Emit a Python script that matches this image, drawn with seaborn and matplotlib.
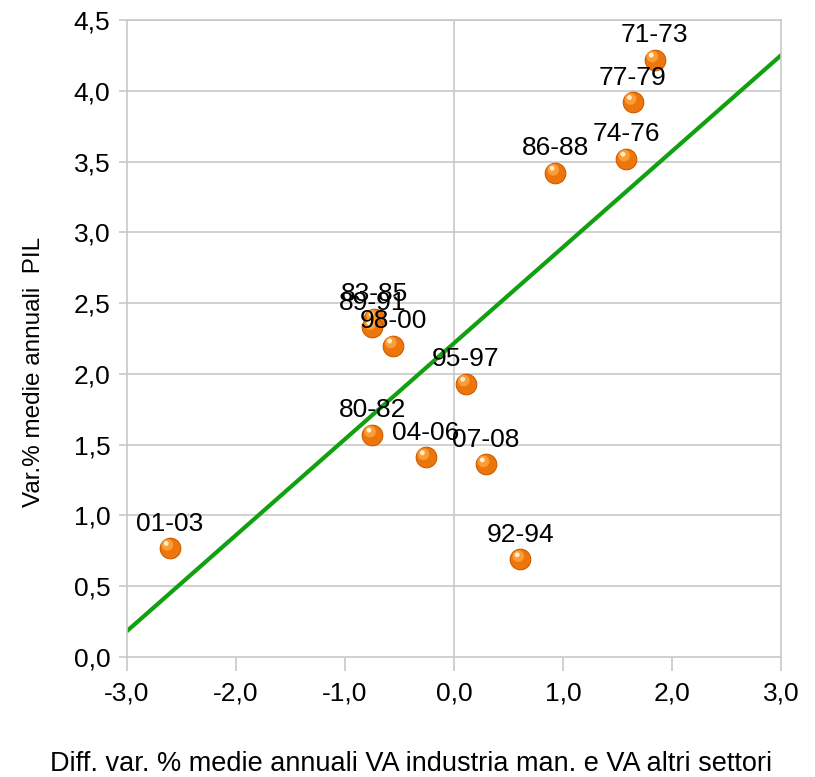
import numpy as np
import pandas as pd
import seaborn as sns
import matplotlib.pyplot as plt
from matplotlib.ticker import FuncFormatter

# periods and values
periods = ['71-73', '77-79', '74-76', '86-88', '83-85', '89-91', '98-00',
           '95-97', '80-82', '04-06', '07-08', '92-94', '01-03']
diff_va = [1.84, 1.64, 1.58, 0.93, -0.73, -0.75, -0.56,
           0.11, -0.75, -0.26, 0.29, 0.61, -2.61]
pil_var = [4.22, 3.92, 3.52, 3.42, 2.39, 2.33, 2.20,
           1.93, 1.57, 1.41, 1.36, 0.69, 0.77]

x_ticks = [-3, -2, -1, 0, 1, 2, 3]
y_ticks = [0, 0.5, 1, 1.5, 2, 2.5, 3, 3.5, 4, 4.5]

df = pd.DataFrame({'period': periods, 'x': diff_va, 'y': pil_var})

sns.set_style('white')
plt.rcParams['font.family'] = ['Liberation Sans', 'DejaVu Sans']

fig = plt.figure(figsize=(8.15, 7.77), dpi=100)
ax = fig.add_axes([127 / 815, 120 / 777, 654 / 815, 637 / 777])
ax.set_xlim(-3, 3)
ax.set_ylim(0, 4.5)

grid_c = '#c8c8c8'
for v in y_ticks[1:]:
    ax.axhline(v, color=grid_c, lw=1.2, zorder=0)
ax.axvline(0, color=grid_c, lw=1.2, zorder=0)

# linear trend
sns.regplot(data=df, x='x', y='y', ci=None, truncate=False, scatter=False,
            line_kws={'color': '#10a010', 'lw': 3, 'zorder': 2}, ax=ax)
ax.set_xlim(-3, 3)
ax.set_ylim(0, 4.5)

# orange balls
sns.scatterplot(data=df, x='x', y='y', s=220, color='#ec760c', edgecolor='#d05a00',
                linewidth=0.8, zorder=3, ax=ax, legend=False)
ax.scatter(np.array(diff_va) - 0.02, np.array(pil_var) + 0.022, s=70,
           color='#ffa840', edgecolor='none', zorder=4, alpha=0.8)
ax.scatter(np.array(diff_va) - 0.03, np.array(pil_var) + 0.032, s=12,
           color='#fff0d0', edgecolor='none', zorder=5)

for p, xv, yv in zip(periods, diff_va, pil_var):
    ax.annotate(p, (xv, yv), xytext=(0, 9), textcoords='offset points',
                ha='center', va='bottom', fontsize=19, color='black', zorder=6)

ax.set_xticks(x_ticks)
ax.set_yticks(y_ticks)
fmt = FuncFormatter(lambda v, _: f'{v:.1f}'.replace('.', ','))
ax.xaxis.set_major_formatter(fmt)
ax.yaxis.set_major_formatter(fmt)
ax.tick_params(axis='x', direction='out', length=10, width=1.2, color=grid_c,
               labelsize=19, labelcolor='black', pad=8)
ax.tick_params(axis='y', direction='out', length=6, width=1.2, color=grid_c,
               labelsize=19, labelcolor='black', pad=6)
ax.tick_params(bottom=True, left=True)

for s in ax.spines.values():
    s.set_color(grid_c)
    s.set_linewidth(1.2)

ax.set_xlabel('Diff. var. % medie annuali VA industria man. e VA altri settori',
              fontsize=19.5, color='black')
ax.set_ylabel('Var.% medie annuali  PIL', fontsize=17.5, color='black')
ax.xaxis.set_label_coords(0.435, -0.148)
ax.yaxis.set_label_coords(-0.125, 0.448)

fig.savefig('out.png', dpi=100)
